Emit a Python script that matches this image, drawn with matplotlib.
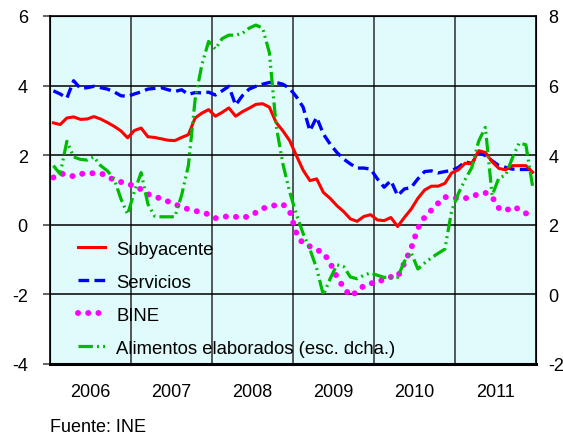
import matplotlib
matplotlib.use("Agg")
import matplotlib.pyplot as plt
import numpy as np

plt.rcParams['font.family'] = ['Liberation Sans', 'DejaVu Sans']
plt.rcParams['axes.unicode_minus'] = False

years = ['2006', '2007', '2008', '2009', '2010', '2011']

subyacente = [2.93, 2.88, 3.07, 3.10, 3.03, 3.04, 3.11, 3.04, 2.94, 2.83, 2.70, 2.50,
              2.71, 2.78, 2.53, 2.51, 2.47, 2.43, 2.42, 2.51, 2.59, 3.07, 3.21, 3.31,
              3.12, 3.23, 3.36, 3.12, 3.25, 3.35, 3.46, 3.48, 3.38, 2.94, 2.70, 2.42,
              1.99, 1.57, 1.27, 1.32, 0.93, 0.76, 0.55, 0.38, 0.17, 0.10, 0.24, 0.29,
              0.14, 0.12, 0.21, -0.05, 0.21, 0.45, 0.76, 1.00, 1.11, 1.11, 1.19, 1.49,
              1.58, 1.77, 1.75, 2.13, 2.08, 1.81, 1.62, 1.58, 1.70, 1.70, 1.70, 1.51]

servicios = [3.85, 3.76, 3.64, 4.14, 3.92, 3.94, 3.98, 3.94, 3.90, 3.82, 3.71, 3.69,
             3.76, 3.82, 3.90, 3.92, 3.94, 3.88, 3.83, 3.88, 3.75, 3.80, 3.79, 3.81,
             3.73, 3.85, 3.98, 3.44, 3.71, 3.90, 3.98, 4.04, 4.09, 4.09, 4.04, 3.92,
             3.68, 3.38, 2.70, 3.09, 2.61, 2.32, 2.08, 1.89, 1.75, 1.63, 1.63, 1.60,
             1.32, 1.08, 1.27, 0.84, 1.03, 1.07, 1.32, 1.53, 1.55, 1.49, 1.53, 1.56,
             1.65, 1.81, 1.76, 2.08, 1.99, 1.84, 1.70, 1.65, 1.60, 1.59, 1.59, 1.59]

bine = [1.36, 1.47, 1.45, 1.39, 1.46, 1.48, 1.48, 1.48, 1.40, 1.28, 1.23, 1.19,
        1.10, 1.02, 0.88, 0.82, 0.74, 0.67, 0.60, 0.50, 0.45, 0.40, 0.36, 0.30,
        0.19, 0.22, 0.25, 0.23, 0.20, 0.25, 0.35, 0.47, 0.52, 0.57, 0.59, 0.40,
        -0.24, -0.55, -0.62, -0.72, -0.80, -1.09, -1.50, -1.80, -2.05, -1.92, -1.75, -1.68,
        -1.67, -1.55, -1.50, -1.50, -1.10, -0.68, -0.10, 0.22, 0.42, 0.62, 0.80, 0.77,
        0.76, 0.76, 0.82, 0.88, 0.92, 0.80, 0.48, 0.40, 0.52, 0.45, 0.33, 0.28]

alimentos = [3.70, 3.46, 4.40, 3.95, 3.88, 3.86, 3.95, 3.70, 3.55, 3.32, 2.75, 2.30,
             2.95, 3.50, 2.60, 2.25, 2.23, 2.23, 2.23, 2.85, 3.70, 5.60, 6.60, 7.27,
             7.05, 7.35, 7.45, 7.45, 7.50, 7.65, 7.74, 7.65, 6.95, 4.85, 3.75, 2.95,
             2.30, 1.75, 1.30, 0.75, -0.02, 0.45, 0.85, 0.80, 0.50, 0.45, 0.55, 0.62,
             0.55, 0.49, 0.49, 0.49, 0.95, 1.20, 0.73, 0.90, 1.05, 1.18, 1.30, 2.40,
             2.90, 3.30, 3.65, 4.40, 4.80, 2.84, 3.35, 3.42, 3.92, 4.35, 4.30, 3.10]

labels = ['Subyacente', 'Servicios', 'BINE', 'Alimentos elaborados (esc. dcha.)']

x = np.arange(len(subyacente)) + 0.5

fig = plt.figure(figsize=(5.63, 4.35), dpi=100)
ax = fig.add_axes([50/563, 1-365/435, 486/563, 348/435])
ax.set_facecolor('#E0FBFC')
ax2 = ax.twinx()

fs = 13
lfs = 13.3
gridc = '#4a4a4a'

h1, = ax.plot(x, subyacente, color='#FF0000', lw=2.2, zorder=5)
h2, = ax.plot(x, servicios, color='#0000FF', lw=2.4, linestyle=(0, (3.2, 1.6)), zorder=4)
h3, = ax.plot(x, bine, color='#FF00FF', lw=4.3, linestyle=(0, (0.01, 1.7)),
              dash_capstyle='round', zorder=3)
h4, = ax2.plot(x, alimentos, color='#00BB00', lw=2.3,
               linestyle=(0, (4.5, 1.3, 0.6, 1.3, 0.6, 1.3)), zorder=2)

ax.set_xlim(0, 72)
ax.set_ylim(-4, 6)
ax2.set_ylim(-2, 8)
ax.set_yticks(np.arange(-4, 7, 2))
ax2.set_yticks(np.arange(-2, 9, 2))

ax.set_xticks(np.arange(6, 72, 12))
ax.set_xticklabels(years, fontsize=fs)
ax.set_xticks(np.arange(12, 72, 12), minor=True)
ax.tick_params(axis='x', which='both', length=0, pad=14)
ax.tick_params(axis='y', length=5, width=1.2, color=gridc, direction='out', pad=11, labelsize=fs)
ax2.tick_params(axis='y', length=0, pad=9, labelsize=fs)

ax.grid(True, axis='y', color='black', lw=1.1)
ax.grid(True, axis='x', which='minor', color=gridc, lw=1.3)
ax.set_axisbelow(True)

for sp in ['top', 'left', 'right']:
    ax2.spines[sp].set_linewidth(1.2)
    ax2.spines[sp].set_color('black')
ax2.spines['bottom'].set_linewidth(2.2)
ax2.spines['bottom'].set_color('black')

leg = ax2.legend([h1, h2, h3, h4], labels, loc='lower left', frameon=False,
                 fontsize=lfs, handlelength=1.46, handletextpad=0.6,
                 labelspacing=0.87, bbox_to_anchor=(0.0235, -0.027))

fig.text(50/563, 1-428/435, 'Fuente: INE', fontsize=fs, va='center', ha='left')

fig.savefig('out.png', dpi=100)
